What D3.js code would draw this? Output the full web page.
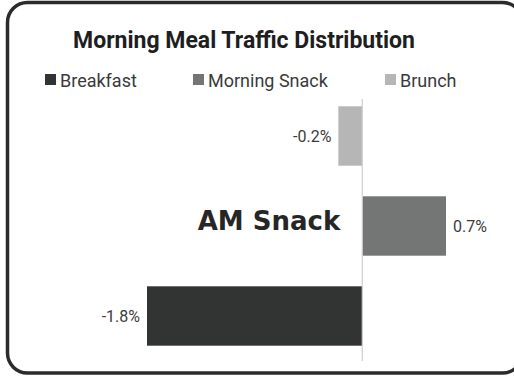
<!DOCTYPE html>
<html>
<head>
<meta charset="utf-8">
<script src="https://cdn.jsdelivr.net/npm/d3@7"></script>
<style>
  html, body { margin: 0; padding: 0; background: #ffffff; }
  svg { display: block; }
</style>
</head>
<body>
<svg id="chart" width="514" height="376"></svg>
<script>
// Meal categories, top to bottom, and their traffic change (%)
const categories = ["Brunch", "Morning Snack", "Breakfast"];
const values = [-0.2, 0.7, -1.8];
const colors = ["#b6b6b6", "#747676", "#323433"];

// Legend order
const legendLabels = ["Breakfast", "Morning Snack", "Brunch"];
const legendColors = ["#323433", "#747676", "#b6b6b6"];

const titleText = "Morning Meal Traffic Distribution";
const calloutText = "AM Snack";

const svg = d3.select("#chart");

// Rounded card frame
svg.append("rect")
  .attr("x", 7.5).attr("y", 2.5)
  .attr("width", 515).attr("height", 370.5)
  .attr("rx", 20).attr("ry", 20)
  .attr("fill", "#ffffff")
  .attr("stroke", "#2b2b2d")
  .attr("stroke-width", 3.5);

// Title
svg.append("text")
  .attr("x", 244).attr("y", 48)
  .attr("text-anchor", "middle")
  .attr("font-family", "Roboto, sans-serif")
  .attr("font-weight", 700)
  .attr("font-size", 23)
  .attr("fill", "#1e1e1e")
  .text(titleText);

// Legend
const legendX = [45, 193, 385];
const legend = svg.append("g");
legendLabels.forEach((lab, i) => {
  legend.append("rect")
    .attr("x", legendX[i]).attr("y", 74)
    .attr("width", 11).attr("height", 11)
    .attr("fill", legendColors[i]);
  legend.append("text")
    .attr("x", legendX[i] + 15).attr("y", 87)
    .attr("font-family", "Roboto, sans-serif")
    .attr("font-size", 18)
    .attr("fill", "#3a3a3a")
    .text(lab);
});

// Scales
const x = d3.scaleLinear().domain([-1.8, 0.7]).range([147, 446]);
const y = d3.scaleBand().domain(categories).range([91, 361])
  .paddingInner(0.34).paddingOuter(0.17);

const data = categories.map((c, i) => ({ cat: c, value: values[i], color: colors[i] }));

// Bars
svg.append("g").selectAll("rect")
  .data(data)
  .join("rect")
  .attr("x", d => x(Math.min(0, d.value)))
  .attr("y", d => y(d.cat))
  .attr("width", d => Math.abs(x(d.value) - x(0)))
  .attr("height", y.bandwidth())
  .attr("fill", d => d.color);

// Zero line
svg.append("line")
  .attr("x1", x(0)).attr("x2", x(0))
  .attr("y1", y.range()[0] + 8).attr("y2", y.range()[1])
  .attr("stroke", "#cfcfcf")
  .attr("stroke-width", 1.2);

// Value labels (plain hyphen for negatives)
const fmt = d => d.toFixed(1) + "%";
svg.append("g").selectAll("text")
  .data(data)
  .join("text")
  .attr("x", d => d.value < 0 ? x(d.value) - 7 : x(d.value) + 7)
  .attr("y", d => y(d.cat) + y.bandwidth() / 2 + 6)
  .attr("text-anchor", d => d.value < 0 ? "end" : "start")
  .attr("font-family", "Roboto, sans-serif")
  .attr("font-size", 16)
  .attr("fill", "#3c3c3c")
  .text(d => fmt(d.value));

// Callout next to the Morning Snack bar
svg.append("text")
  .attr("x", x(0) - 22)
  .attr("y", y("Morning Snack") + y.bandwidth() / 2 + 4)
  .attr("text-anchor", "end")
  .attr("font-family", "'DejaVu Sans', sans-serif")
  .attr("font-weight", 700)
  .attr("font-size", 26)
  .attr("fill", "#262626")
  .text(calloutText);
</script>
</body>
</html>
